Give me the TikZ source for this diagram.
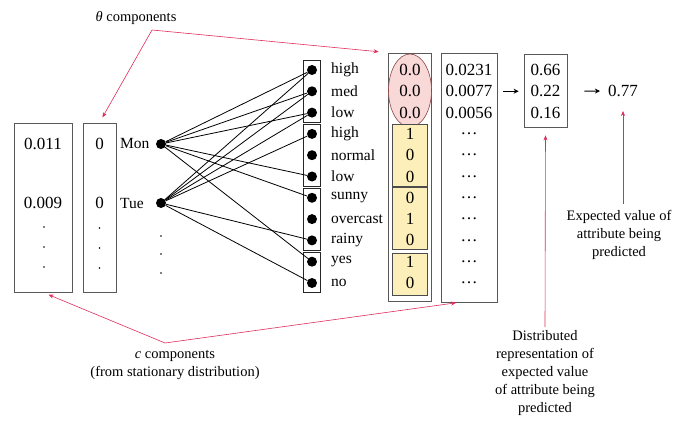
\documentclass[tikz,border=0pt]{standalone}
\usepackage{fontspec}
\setmainfont{Liberation Serif}
\usetikzlibrary{arrows.meta,positioning,fit}

\definecolor{annot}{RGB}{224,44,92}
\definecolor{ovalfill}{RGB}{249,216,216}
\definecolor{ovaldraw}{RGB}{140,70,70}
\definecolor{onehot}{RGB}{252,239,186}

\begin{document}
\begin{tikzpicture}[x=1pt,y=-1pt,
    point/.style={circle,fill=black,minimum size=10pt,inner sep=0pt},
    attr/.style={anchor=west,inner sep=0pt,font=\fontsize{15.5}{18}\selectfont},
    val/.style={inner sep=0pt,font=\fontsize{17}{20}\selectfont},
    note/.style={align=center,inner sep=0pt,font=\fontsize{14.5}{18}\selectfont},
    col/.style={draw=black!65,line width=0.8pt,minimum height=169pt,inner sep=0pt},
    group/.style={draw=black!85,line width=0.9pt,inner xsep=3.5pt,inner ysep=4.5pt},
    hotbox/.style={draw=black!70,fill=onehot,line width=0.7pt},
    pointer/.style={draw=annot,line width=0.6pt,-{Stealth[length=5pt,width=4pt]}},
    arr/.style={line width=1pt,-{Stealth[length=5pt,width=5pt]}},
    node distance = 21.3pt]
  \useasboundingbox (0,0) rectangle (679,422);

  % c components (stationary distribution)
  \node[col,minimum width=58pt](cbox1) at (43,207.5)   {};
  \node[col,minimum width=33pt](cbox2) at (99.5,207.5) {};
  \node[val] at (43,144)   {0.011};
  \node[val] at (43,203)   {0.009};
  \node[val] at (99.5,144) {0};
  \node[val] at (99.5,203) {0};
  \foreach \y in {227,247,267} {
    \fill (44,\y) circle (0.9pt);
    \fill (99.5,\y+1) circle (0.9pt);
  }

  % days
  \node[point](mon) at (161,144)                       {};
  \node[point](tue) [below of = mon, node distance=59pt] {};
  \node[attr] at (120,144) {Mon};
  \node[attr] at (120,203) {Tue};
  \foreach \y in {236,254,273}
    \fill (161,\y) circle (0.9pt);

  % attribute values
  \node[point](0)  at (312,70)       {};
  \node[point](1)  [below of = 0]    {};
  \node[point](2)  [below of = 1]    {};
  \node[point](3)  [below of = 2]    {};
  \node[point](4)  [below of = 3]    {};
  \node[point](5)  [below of = 4]    {};
  \node[point](6)  [below of = 5]    {};
  \node[point](7)  [below of = 6]    {};
  \node[point](8)  [below of = 7]    {};
  \node[point](9)  [below of = 8]    {};
  \node[point](10) [below of = 9]    {};
  \node[group,fit=(0)(2)]  {};
  \node[group,fit=(3)(5)]  {};
  \node[group,fit=(6)(8)]  {};
  \node[group,fit=(9)(10)] {};
  \foreach \n/\txt in {0/high,1/med,2/low,3/high,4/normal,5/low,6/sunny,7/overcast,8/rainy,9/yes,10/no}
    \node[attr] at ([xshift=19pt]\n.center) {\txt};

  \path[line width=0.8pt]
    (mon) edge (0)
    (mon) edge (1)
    (mon) edge (2)
    (mon) edge (5)
    (mon) edge (6)
    (mon) edge (9)
    (tue) edge (0)
    (tue) edge (1)
    (tue) edge (2)
    (tue) edge (3)
    (tue) edge (8)
    (tue) edge (10)
    ;

  % theta components
  \node[col,minimum width=43pt,minimum height=248pt](thetas) at (409.5,177) {};
  \draw[draw=ovaldraw,fill=ovalfill,line width=0.6pt] (410,90.5) ellipse (21.5 and 36.5);
  \draw[hotbox] (392,124) rectangle (427,186.5);
  \draw[hotbox] (392,187.5) rectangle (427,249.5);
  \draw[hotbox] (392,253) rectangle (427,295);
  \foreach \n/\v in {0/0.0,1/0.0,2/0.0,3/1,4/0,5/0,6/0,7/1,8/0,9/1,10/0}
    \node[val] at (410,0 |- \n) {\v};

  % products
  \node[col,minimum width=56pt,minimum height=249pt](probs) at (469,177.5) {};
  \foreach \n/\v in {0/0.0231,1/0.0077,2/0.0056}
    \node[val] at (469,0 |- \n) {\v};
  \foreach \n in {3,...,10}
    \node[val] at (469,0 |- \n) {\dots};

  % distributed representation
  \node[col,minimum width=43pt,minimum height=73pt](dist) at (545.5,90.5) {};
  \foreach \n/\v in {0/0.66,1/0.22,2/0.16}
    \node[val] at (545.5,0 |- \n) {\v};
  \node[val](expect) at (623,91) {0.77};

  \draw[arr,shorten <=6pt,shorten >=5pt] (probs.east |- 1) -- (dist.west |- 1);
  \draw[arr,shorten <=17pt,shorten >=8pt] (dist.east |- 1) -- (expect.west);

  % annotations
  \node[note](thetanote) at (136,18) {\textit{θ} components};
  \coordinate (tv) at (152,30);
  \draw[pointer,shorten >=6pt] (tv) -- (cbox2.north);
  \draw[pointer,shorten >=9pt] (tv) -- (thetas.north west);

  \node[note](cnote) at (175,364.5) {\textit{c} components\\(from stationary distribution)};
  \coordinate (cv) at (165,343);
  \draw[pointer,shorten >=6pt] (cv) -- (cbox1.south);
  \draw[pointer,shorten >=3pt] (cv) -- ([xshift=-10pt]probs.south);

  \node[note](distnote) at (545,373) {Distributed\\representation of\\expected value\\of attribute being\\predicted};
  \draw[pointer,shorten >=8pt] ([yshift=3pt]distnote.north) -- (dist.south);

  \node[note](expnote) at (619,234.5) {Expected value of\\attribute being\\predicted};
  \draw[pointer,shorten >=14pt] ([yshift=6pt]expnote.north -| expect) -- (expect.south);
\end{tikzpicture}
\end{document}
